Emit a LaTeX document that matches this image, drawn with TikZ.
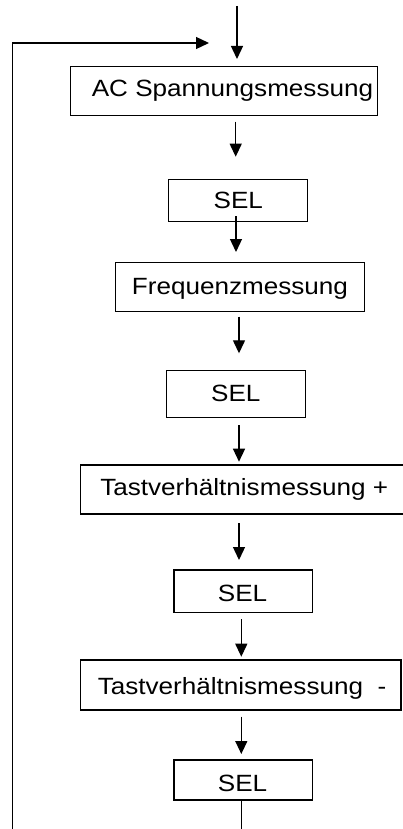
\documentclass[tikz,border=0pt]{standalone}
\usepackage{fontspec}
\usepackage{graphicx}
\setmainfont{Liberation Sans}
\usetikzlibrary{arrows.meta}
\newcommand\wide[1]{\scalebox{1.11}[1]{#1}}
\tikzset{
  box/.style={draw=black, line width=1.3pt, fill=white, inner sep=0pt},
  lbl/.style={inner sep=0pt, anchor=base, font=\fontsize{23.5}{28}\selectfont},
  flow/.style={line width=1.3pt, -{Triangle[length=13pt,width=12pt]}},
  wire/.style={line width=1.3pt}
}
\begin{document}
\begin{tikzpicture}[x=1pt,y=-1pt]
\useasboundingbox (0,0) rectangle (402,829);
\fill[white] (0,0) rectangle (402,829);

% boxes
\node[box, minimum width=307pt, minimum height=48.6pt] (ac) at (224.2,91) {};
\node[box, minimum width=139pt, minimum height=42pt] (sel1) at (237.8,200.3) {};
\node[box, minimum width=248.6pt, minimum height=48.6pt] (freq) at (240,287) {};
\node[box, minimum width=138.6pt, minimum height=46.6pt] (sel2) at (236,394) {};
\node[box, minimum width=334pt, minimum height=49pt] (tplus) at (247.7,489.5) {};
\node[box, minimum width=138.7pt, minimum height=42.7pt] (sel3) at (243.3,591.3) {};
\node[box, minimum width=320.3pt, minimum height=50pt] (tminus) at (240.8,685) {};
\node[box, minimum width=138.7pt, minimum height=40pt] (sel4) at (243.3,780) {};

% labels
\node[lbl] (acT) at (232.5,96.7) {\wide{AC Spannungsmessung}};
\node[lbl] (sel1T) at (238.3,208.3) {\wide{SEL}};
\node[lbl] (freqT) at (240,294) {\wide{Frequenzmessung}};
\node[lbl] (sel2T) at (235.8,401.7) {\wide{SEL}};
\node[lbl] (tplusT) at (244.2,495) {\wide{Tastverhältnismessung +}};
\node[lbl] (sel3T) at (242.5,601.7) {\wide{SEL}};
\node[lbl] (tminusT) at (242,694) {\wide{Tastverhältnismessung\ \ -}};
\node[lbl] (sel4T) at (242.5,791.7) {\wide{SEL}};

% connector ends
\coordinate (in0) at (237,6);
\coordinate (in1) at (237,59);
\coordinate (a1s) at (235.7,121.7);
\coordinate (a1e) at (235.7,156.7);
\coordinate (a2s) at (236,216);
\coordinate (a2e) at (236,252);
\coordinate (a3s) at (239,316.7);
\coordinate (a3e) at (239,353.3);
\coordinate (a4s) at (239,425);
\coordinate (a4e) at (239,461.7);
\coordinate (a5s) at (239,523.3);
\coordinate (a5e) at (239,560);
\coordinate (a6s) at (241.3,619.3);
\coordinate (a6e) at (241.3,656.7);
\coordinate (a7s) at (241.3,716.7);
\coordinate (a7e) at (241.3,754);
\coordinate (outE) at (241.3,830);
\coordinate (loopB) at (12.7,830);
\coordinate (loopT) at (12.7,43);
\coordinate (loopE) at (209,43);

% flow
\draw[flow] (in0) -- (in1);
\draw[flow] (a1s) -- (a1e);
\draw[flow] (a2s) -- (a2e);
\draw[flow] (a3s) -- (a3e);
\draw[flow] (a4s) -- (a4e);
\draw[flow] (a5s) -- (a5e);
\draw[flow] (a6s) -- (a6e);
\draw[flow] (a7s) -- (a7e);
\draw[wire] (sel4.south -| outE) -- (outE);
\draw[flow] (loopB) -- (loopT) -- (loopE);
\end{tikzpicture}
\end{document}
